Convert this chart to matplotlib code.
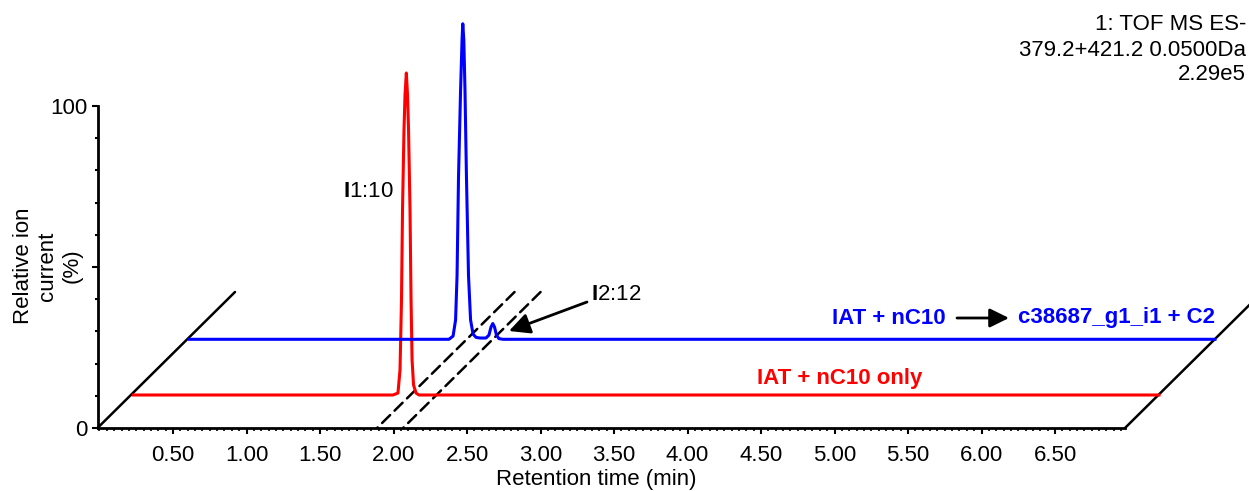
import matplotlib
matplotlib.use("Agg")
import matplotlib.pyplot as plt
from matplotlib.patches import FancyArrowPatch
from matplotlib.transforms import ScaledTranslation
from matplotlib.ticker import MultipleLocator

# ---- data -------------------------------------------------------------
# Extracted ion chromatograms (retention time in min, relative intensity in %)
red_time = [0.0, 1.765, 1.799, 1.813, 1.823, 1.830, 1.840, 1.847, 1.856,
            1.864, 1.871, 1.881, 1.888, 1.895, 1.905, 1.922, 1.942, 6.976]
red_intensity = [0, 0, 0.6, 7.8, 29.5, 57.5, 82.3, 93.2, 100,
                 93.2, 82.3, 57.5, 29.5, 10.9, 3.1, 0.6, 0, 0]

blue_time = [0.0, 1.765, 1.793, 1.810, 1.820, 1.830, 1.844, 1.854, 1.859,
             1.866, 1.874, 1.884, 1.898, 1.912, 1.929, 1.949, 1.976, 2.017,
             2.037, 2.051, 2.063, 2.075, 2.088, 2.105, 2.133, 6.976]
blue_intensity = [0, 0, 1.0, 6.0, 19.7, 50.4, 77.4, 93.0, 98.0,
                  93.0, 77.4, 50.4, 19.7, 6.0, 1.6, 0.6, 0.4, 0.4,
                  1.3, 3.8, 4.9, 3.8, 1.3, 0.2, 0, 0]

# Retention times marked by the dashed guide lines
guide_times = [1.888, 2.065]

red_label = "IAT + nC10 only"
blue_label_left = "IAT + nC10"
blue_label_right = "c38687_g1_i1 + C2"
peak_labels = [r"$\mathbf{I}$1:10", r"$\mathbf{I}$2:12"]
header_lines = ["1: TOF MS ES-", "379.2+421.2 0.0500Da", "2.29e5"]

x_ticks_labeled = [0.5, 1.0, 1.5, 2.0, 2.5, 3.0, 3.5, 4.0, 4.5, 5.0, 5.5, 6.0, 6.5]
X_MIN, X_MAX = -0.0136, 6.976

# ---- style ------------------------------------------------------------
plt.rcParams["font.family"] = ["Liberation Sans", "DejaVu Sans"]
plt.rcParams["mathtext.fontset"] = "custom"
plt.rcParams["mathtext.rm"] = "Liberation Sans"
plt.rcParams["mathtext.bf"] = "Liberation Sans:bold"
FS = 16
RED = "#ff0000"
BLUE = "#0000ff"

W, H = 1249, 491
fig = plt.figure(figsize=(W / 100, H / 100), dpi=100)


def fx(px):
    return px / W


def fy(py):
    return 1 - py / H


ax = fig.add_axes([fx(97.5), 63 / H, 1027.5 / W, 322 / H])
ax.set_xlim(X_MIN, X_MAX)
ax.set_ylim(0, 100)

for side in ("top", "right"):
    ax.spines[side].set_visible(False)
for side in ("left", "bottom"):
    ax.spines[side].set_linewidth(2.0)


def depth(dx, dy):
    """Data transform shifted back in depth by (dx, dy) pixels."""
    return ax.transData + ScaledTranslation(dx / 100, dy / 100, fig.dpi_scale_trans)


# depth axis lines at both ends of the time axis
for x0 in (X_MIN, X_MAX):
    ax.annotate("", xy=(x0, 0), xytext=(137.5, 136), textcoords="offset pixels",
                arrowprops=dict(arrowstyle="-", lw=1.8, color="black",
                                shrinkA=0, shrinkB=0),
                annotation_clip=False)

# dashed guides running back through the peaks
for t in guide_times:
    ax.annotate("", xy=(t, 0), xytext=(137.5, 136), textcoords="offset pixels",
                arrowprops=dict(arrowstyle="-", lw=1.8, color="black",
                                linestyle=(0, (4.5, 2.5)), shrinkA=0, shrinkB=0),
                annotation_clip=False, zorder=2)

# traces, each pushed back in depth
ax.plot(red_time, red_intensity, color=RED, lw=2.2, transform=depth(34, 33),
        clip_on=False, solid_joinstyle="round", zorder=3)
ax.plot(blue_time, blue_intensity, color=BLUE, lw=2.2, transform=depth(90, 88.7),
        clip_on=False, solid_joinstyle="round", zorder=3)

# ticks
ax.set_xticks(x_ticks_labeled)
ax.set_xticklabels([f"{v:.2f}" for v in x_ticks_labeled])
ax.xaxis.set_minor_locator(MultipleLocator(0.05))
ax.set_yticks([0, 50, 100])
ax.set_yticklabels(["0", "", "100"])
ax.yaxis.set_minor_locator(MultipleLocator(10))
ax.tick_params(axis="x", which="major", direction="out", length=4, width=1.5,
               pad=8, labelsize=FS)
ax.tick_params(axis="x", which="minor", direction="out", length=2.2, width=1.2)
ax.tick_params(axis="y", which="major", direction="out", length=4.5, width=1.5,
               pad=3, labelsize=FS)
ax.tick_params(axis="y", which="minor", direction="out", length=2.2, width=1.5)

# axis titles
fig.text(fx(596), fy(485), "Retention time (min)", ha="center", va="baseline",
         fontsize=FS)
fig.text(fx(48), fy(266), "Relative ion\ncurrent\n(%)", ha="center", va="center",
         rotation=90, fontsize=FS, linespacing=1.2)

# trace labels
fig.text(fx(757), fy(384), red_label, color=RED, fontweight="bold",
         fontsize=FS, ha="left", va="baseline")
fig.text(fx(832), fy(323.5), blue_label_left, color=BLUE, fontweight="bold",
         fontsize=FS, ha="left", va="baseline")
fig.text(fx(1018), fy(323.5), blue_label_right, color=BLUE, fontweight="bold",
         fontsize=FS, ha="left", va="baseline")
fig.add_artist(FancyArrowPatch(
    (fx(957), fy(318)), (fx(1009), fy(318)), transform=fig.transFigure,
    arrowstyle="-|>,head_length=0.65,head_width=0.32", mutation_scale=18,
    lw=2.0, color="black", shrinkA=0, shrinkB=0))

# peak labels
fig.text(fx(343), fy(197), peak_labels[0], fontsize=FS, ha="left", va="baseline")
fig.text(fx(591), fy(300), peak_labels[1], fontsize=FS, ha="left", va="baseline")
fig.add_artist(FancyArrowPatch(
    (fx(587), fy(302)), (fx(509), fy(331)), transform=fig.transFigure,
    arrowstyle="-|>,head_length=0.7,head_width=0.35", mutation_scale=18,
    lw=2.0, color="black", shrinkA=0, shrinkB=0))

# acquisition header in the top-right corner
for txt, base in zip(header_lines, [30, 56.5, 80]):
    fig.text(fx(1246), fy(base), txt, fontsize=FS, ha="right", va="baseline")

fig.savefig("out.png", dpi=100)
